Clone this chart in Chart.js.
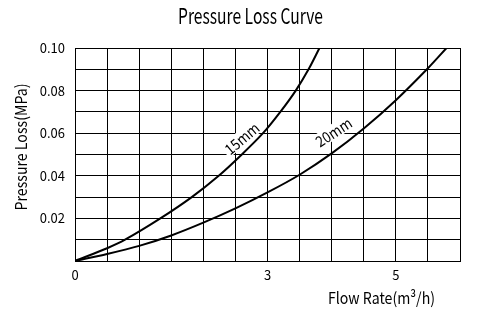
<!DOCTYPE html>
<html>
<head>
<meta charset="utf-8">
<script src="https://cdn.jsdelivr.net/npm/chart.js@4"></script>
<style>
  html, body { margin: 0; padding: 0; background: #fff; }
  #wrap { width: 491px; height: 328px; position: relative; }
</style>
</head>
<body>
<div id="wrap"><canvas id="c" width="491" height="328"></canvas></div>
<script>
// ---- data ----
const flow15 = [0, 0.5, 0.78, 1.33, 1.82, 2.24, 2.6, 2.93, 3.2, 3.44, 3.64, 3.81];
const loss15 = [0, 0.006, 0.01, 0.02, 0.03, 0.04, 0.05, 0.06, 0.07, 0.08, 0.09, 0.1];
const flow20 = [0, 0.5, 1, 1.5, 2, 2.5, 3, 3.5, 4, 4.5, 5, 5.5, 5.79];
const loss20 = [0, 0.0033, 0.0071, 0.012, 0.018, 0.0247, 0.0322, 0.0405, 0.0505, 0.0622, 0.0755, 0.0905, 0.1];
const xTickLabels = [0, 3, 5];
const yTickLabels = [0.02, 0.04, 0.06, 0.08, 0.10];
const seriesNames = ['15mm', '20mm'];
const titleText = 'Pressure Loss Curve';
const xTitle = 'Flow Rate(m³/h)';
const yTitle = 'Pressure Loss(MPa)';

const FONT = '"Noto Sans CJK JP", "Noto Sans", sans-serif';

function toPts(xs, ys) { return xs.map((x, i) => ({ x: x, y: ys[i] })); }

// draws text stretched/condensed to fit a target width
function fitText(ctx, text, cx, cy, w, size, rot) {
  ctx.save();
  ctx.font = size + 'px ' + FONT;
  const m = ctx.measureText(text).width;
  ctx.translate(cx, cy);
  if (rot) ctx.rotate(rot);
  ctx.scale(w / m, 1);
  ctx.fillStyle = '#000';
  ctx.textAlign = 'center';
  ctx.textBaseline = 'middle';
  ctx.fillText(text, 0, 0);
  ctx.restore();
}

const textPlugin = {
  id: 'texts',
  afterDraw(chart) {
    const ctx = chart.ctx;
    fitText(ctx, titleText, 250.5, 16, 145, 22);
    fitText(ctx, xTitle, 381.5, 298, 107, 16);
    fitText(ctx, yTitle, 21, 147, 127, 16, -Math.PI / 2);
  }
};

// curve name labels with a white knock-out box, placed through the scales
const curveLabelPlugin = {
  id: 'curveLabels',
  afterDatasetsDraw(chart, args, opts) {
    const ctx = chart.ctx;
    const xs = chart.scales.x, ys = chart.scales.y;
    opts.items.forEach(it => {
      const px = xs.getPixelForValue(it.x), py = ys.getPixelForValue(it.y);
      ctx.save();
      ctx.translate(px, py);
      ctx.rotate(it.angle * Math.PI / 180);
      ctx.font = '15px ' + FONT;
      const m = ctx.measureText(it.text).width;
      const sx = it.width / m;
      ctx.fillStyle = '#fff';
      ctx.fillRect(-it.width / 2 - 2, -8, it.width + 4, 15);
      ctx.scale(sx, 1);
      ctx.fillStyle = '#000';
      ctx.textAlign = 'center';
      ctx.textBaseline = 'middle';
      ctx.fillText(it.text, 0, 0);
      ctx.restore();
    });
  }
};

new Chart(document.getElementById('c'), {
  type: 'scatter',
  data: {
    datasets: [
      { label: seriesNames[0], data: toPts(flow15, loss15), showLine: true, borderColor: '#000', borderWidth: 2, pointRadius: 0, tension: 0.3, fill: false },
      { label: seriesNames[1], data: toPts(flow20, loss20), showLine: true, borderColor: '#000', borderWidth: 2, pointRadius: 0, tension: 0.3, fill: false }
    ]
  },
  options: {
    responsive: false,
    animation: false,
    layout: { padding: { left: 0, right: 31, top: 48, bottom: 0 } },
    plugins: {
      legend: { display: false },
      title: { display: false },
      tooltip: { enabled: false },
      curveLabels: {
        items: [
          { text: seriesNames[0], x: 2.6, y: 0.0575, angle: -40, width: 40 },
          { text: seriesNames[1], x: 4.03, y: 0.0605, angle: -33, width: 40 }
        ]
      }
    },
    scales: {
      x: {
        type: 'linear', min: 0, max: 6,
        afterFit(s) { s.height = 67; },
        afterBuildTicks(s) {
          const t = [];
          for (let i = 0; i <= 12; i++) t.push({ value: i * 0.5 });
          s.ticks = t;
        },
        ticks: {
          autoSkip: false, maxRotation: 0, padding: 6, color: '#000',
          font: { family: FONT, size: 13 },
          callback(v) { return xTickLabels.includes(v) ? String(v) : ''; }
        },
        grid: { color: '#000', lineWidth: 1, drawTicks: false },
        border: { display: true, color: '#000', width: 1 }
      },
      y: {
        type: 'linear', min: 0, max: 0.1,
        afterFit(s) { s.width = 75; },
        afterBuildTicks(s) {
          const t = [];
          for (let i = 0; i <= 10; i++) t.push({ value: i / 100 });
          s.ticks = t;
        },
        ticks: {
          autoSkip: false, padding: 10, color: '#000',
          font: { family: FONT, size: 13 },
          callback(v) {
            const r = Math.round(v * 100) / 100;
            return yTickLabels.some(l => Math.abs(l - r) < 1e-9) ? r.toFixed(2) : '';
          }
        },
        grid: { color: '#000', lineWidth: 1, drawTicks: false },
        border: { display: true, color: '#000', width: 1 }
      }
    }
  },
  plugins: [textPlugin, curveLabelPlugin]
});
</script>
</body>
</html>
